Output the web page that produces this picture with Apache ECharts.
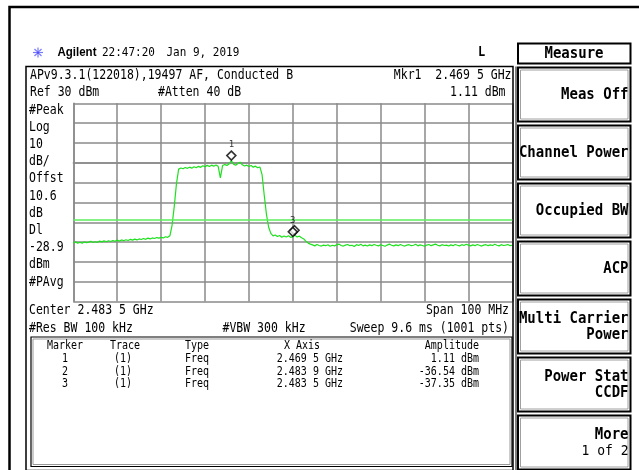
<!DOCTYPE html>
<html>
<head>
<meta charset="utf-8">
<script src="https://cdn.jsdelivr.net/npm/echarts@6/dist/echarts.min.js"></script>
<style>
html,body{margin:0;padding:0;background:#fff;}
#c{width:639px;height:470px;}
</style>
</head>
<body>
<div id="c"></div>
<script>
// ---------- data ----------
var centerMHz = 2483.5;
var spanMHz = 100;
var stepMHz = 0.5;             // trace sample spacing (MHz)
var refLevel = 30;             // dBm (top of screen)
var dbPerDiv = 10;
var displayLine = -28.9;       // DL, dBm

// trace amplitudes (dBm) every 0.5 MHz from start to stop frequency
var traceLeftFloor = [-40.4,-39.8,-40.6,-40.1,-40.5,-39.9,-40.3,-40.0,-39.6,-40.2,
  -39.8,-40.1,-39.5,-39.9,-39.4,-39.8,-39.3,-39.7,-39.2,-39.6,
  -39.0,-39.5,-38.9,-39.3,-38.8,-39.2,-38.6,-39.0,-38.5,-38.9,
  -38.4,-38.7,-38.2,-38.6,-38.0,-38.4,-37.9,-38.2,-37.7,-38.0,
  -37.6,-37.9,-37.3,-37.6];
var traceRise = [-36.8,-31.5,-22.0,-10.5,-3.2];
var tracePlateau = [-2.6,-3.0,-2.4,-2.8,-2.2,-2.7,-2.0,-2.5,-1.8,-2.3,
  -1.5,-2.0,-1.3,-1.9,-1.2,-1.7,-1.1,-1.8,-7.6,-1.4,
  -0.9,-1.3,-0.6,1.11,-0.7,-1.2,-0.4,0.3,-1.0,-1.6,
  -1.2,-1.9,-1.4,-2.2,-1.7,-2.5,-2.1];
var traceFallShoulder = [-6.0,-16.5,-26.0,-32.5,-35.6,-36.9,-36.4,-37.2,-36.7,-37.5,
  -36.9,-37.4,-36.8,-37.6,-37.35,-36.6,-37.4,-37.0,-37.8,-38.4,
  -39.6,-40.5,-41.0];
var traceRightFloor = [-41.4,-41.9,-41.2,-41.7,-42.0,-41.5,-41.8,-41.3,-42.1,-41.6,
  -41.9,-41.4,-41.0,-41.7,-42.0,-41.5,-41.2,-41.8,-41.6,-42.2,
  -41.3,-41.7,-41.1,-41.9,-41.5,-42.0,-41.4,-41.8,-41.2,-41.6,
  -41.9,-41.3,-41.7,-42.1,-41.5,-41.0,-41.6,-41.9,-41.4,-41.8,
  -41.2,-41.7,-42.0,-41.5,-41.3,-41.8,-41.6,-41.1,-41.9,-41.4,
  -41.7,-42.1,-41.5,-41.2,-41.8,-41.4,-41.0,-41.6,-41.9,-41.3,
  -41.7,-41.5,-42.0,-41.4,-41.8,-41.2,-41.6,-41.9,-41.3,-41.7,
  -41.1,-41.5,-41.9,-41.4,-41.8,-41.2,-41.6,-42.0,-41.5,-41.3,
  -41.8,-41.4,-41.7,-41.1,-41.6,-41.9,-41.3,-41.7,-41.5,-41.2,
  -41.8,-41.6];

// markers
var markerIds = ['1','2','3'];
var markerTrace = ['(1)','(1)','(1)'];
var markerType = ['Freq','Freq','Freq'];
var markerFreqGHz = [2.4695, 2.4839, 2.4835];
var markerAmp = [1.11, -36.54, -37.35];

// annotation texts
var headerTime = '22:47:20';
var headerDate = 'Jan 9, 2019';
var titleLine = 'APv9.3.1(122018),19497 AF, Conducted B';
var leftLabels = ['#Peak','Log','10','dB/','Offst','10.6','dB','Dl','-28.9','dBm','#PAvg'];
var softkeyTitle = 'Measure';
var softkeys = [['Meas Off'],['Channel Power'],['Occupied BW'],['ACP'],
  ['Multi Carrier','Power'],['Power Stat','CCDF'],['More','1 of 2']];

// ---------- build ----------
var startMHz = centerMHz - spanMHz / 2;
var traceDbm = [].concat(traceLeftFloor, traceRise, tracePlateau, traceFallShoulder, traceRightFloor);
var traceData = traceDbm.map(function (v, i) { return [i * stepMHz, v]; });

function ghzText(g) { var s = g.toFixed(4); return s.slice(0, 5) + ' ' + s.slice(5) + ' GHz'; }
function ampText(a) { return a.toFixed(2) + ' dBm'; }

var MONO = '"DejaVu Sans Mono", monospace';
var F = '11.5px ' + MONO;
var FT = '10px ' + MONO;
var FK = 'bold 14px ' + MONO;

var g = [];
function txt(t, x, y, font, align, sy) {
  g.push({ type: 'text', z: 10, x: x, y: y, scaleY: sy || 1.18,
    style: { text: t, x: 0, y: 0, font: font || F, fill: '#000',
      textAlign: align || 'left', textVerticalAlign: 'middle' } });
}
function box(x, y, w, h, stroke, lw) {
  g.push({ type: 'rect', z: 5, shape: { x: x, y: y, width: w, height: h },
    style: { fill: 'none', stroke: stroke || '#000', lineWidth: lw || 1 } });
}

// outer frame
box(9.5, 7, 660, 500, '#000', 2.5);
// main display box
box(26, 66.5, 487, 404, '#000', 1.5);
g.push({ type: 'line', z: 5, shape: { x1: 516, y1: 66.5, x2: 516, y2: 470 }, style: { stroke: '#000', lineWidth: 1 } });
// marker table box
box(31, 337, 481, 129.5, '#000', 1.2);
box(33, 339, 477, 125.5, '#999', 1);

// Agilent logo star
var cx = 38, cy = 52.5;
for (var a = 0; a < 8; a++) {
  var ang = a * Math.PI / 4;
  g.push({ type: 'line', z: 10, shape: { x1: cx + 1.5 * Math.cos(ang), y1: cy + 1.5 * Math.sin(ang),
    x2: cx + 5 * Math.cos(ang), y2: cy + 5 * Math.sin(ang) }, style: { stroke: '#7878ff', lineWidth: 1.2 } });
}
g.push({ type: 'circle', z: 10, shape: { cx: cx, cy: cy, r: 1.6 }, style: { fill: '#5050ff' } });
txt('Agilent', 57.5, 52.5, 'bold 11.5px "Liberation Sans", Arial, sans-serif', 'left', 1.1);
txt(headerTime, 102, 52.5, '11px ' + MONO);
txt(headerDate, 166.5, 52.5, '11px ' + MONO);
txt('L', 478, 52.5, 'bold 12px ' + MONO);

txt(titleLine, 30, 75.5);
txt('Mkr' + markerIds[0] + '  ' + ghzText(markerFreqGHz[0]), 511.5, 75.5, F, 'right');
txt('Ref ' + refLevel + ' dBm', 30, 92.5);
txt('#Atten 40 dB', 158, 92.5);
txt(ampText(markerAmp[0]), 505.5, 92.5, F, 'right');

leftLabels.forEach(function (t, i) { txt(t, 29, 110 + i * 17.2); });

txt('Center ' + ghzText(centerMHz / 1000), 29, 310.5);
txt('Span ' + spanMHz + ' MHz', 509, 310.5, F, 'right');
txt('#Res BW 100 kHz', 29, 328.3);
txt('#VBW 300 kHz', 222.5, 328.3);
txt('Sweep 9.6 ms (1001 pts)', 509, 328.3, F, 'right');

// marker table
var ty0 = 346;
txt('Marker', 65, ty0, FT, 'center');
txt('Trace', 125, ty0, FT, 'center');
txt('Type', 185, ty0, FT, 'left');
txt('X Axis', 320, ty0, FT, 'right');
txt('Amplitude', 479, ty0, FT, 'right');
markerIds.forEach(function (id, i) {
  var y = 359 + i * 12.7;
  txt(id, 65, y, FT, 'center');
  txt(markerTrace[i], 123, y, FT, 'center');
  txt(markerType[i], 185, y, FT, 'left');
  txt(ghzText(markerFreqGHz[i]), 343, y, FT, 'right');
  txt(ampText(markerAmp[i]), 479, y, FT, 'right');
});

// softkeys
box(518, 43.5, 112.5, 20, '#000', 2);
txt(softkeyTitle, 574, 53.5, FK, 'center', 1.1);
softkeys.forEach(function (lines, i) {
  var top = 67.5 + i * 58;
  box(518, top, 112.5, 54, '#000', 2);
  box(520.5, top + 2.5, 107.5, 49, '#888', 0.8);
  var mid = top + 27;
  if (lines.length === 1) {
    txt(lines[0], 628.5, mid, FK, 'right', 1.1);
  } else {
    txt(lines[0], 628.5, mid - 8, FK, 'right', 1.1);
    txt(lines[1], 628.5, mid + 8.5, i === 6 ? '13px ' + MONO : FK, 'right', 1.1);
  }
});

var markerPts = markerIds.map(function (id, i) {
  return { value: [markerFreqGHz[i] * 1000 - startMHz, markerAmp[i]], name: id,
    label: { show: id !== '2' } };
});
// draw marker 2 first so marker 3 sits on top
var markerOrder = [1, 2, 0];

var chart = echarts.init(document.getElementById('c'), null, { renderer: 'canvas' });
chart.setOption({
  backgroundColor: '#fff',
  animation: false,
  grid: { left: 73.3, top: 103.3, width: 439, height: 198.3, show: false },
  xAxis: {
    type: 'value', min: 0, max: spanMHz, interval: spanMHz / 10,
    axisLine: { show: true, lineStyle: { color: '#8a8a8a', width: 1.5 } },
    axisTick: { show: false }, axisLabel: { show: false },
    splitLine: { show: true, lineStyle: { color: '#8a8a8a', width: 1.5 } }
  },
  yAxis: {
    type: 'value', min: refLevel - 10 * dbPerDiv, max: refLevel, interval: dbPerDiv,
    axisLine: { show: true, lineStyle: { color: '#8a8a8a', width: 1.5 } },
    axisTick: { show: false }, axisLabel: { show: false },
    splitLine: { show: true, lineStyle: { color: '#8a8a8a', width: 1.5 } }
  },
  series: [
    {
      type: 'line', data: traceData, showSymbol: false, symbol: 'none',
      lineStyle: { color: '#1fe01f', width: 1.2 }, z: 3,
      markLine: {
        silent: true, symbol: 'none', label: { show: false },
        lineStyle: { color: '#5af05a', width: 1.5, type: 'solid' },
        data: [{ yAxis: displayLine }]
      }
    },
    {
      type: 'scatter', z: 6,
      data: markerOrder.map(function (i) { return markerPts[i]; }),
      symbol: 'diamond', symbolSize: 9, symbolOffset: [0, -5],
      itemStyle: { color: '#fff', borderColor: '#000', borderWidth: 1.6 },
      label: { show: true, position: 'top', distance: 1, formatter: '{b}',
        color: '#000', fontSize: 9, fontFamily: 'DejaVu Sans Mono' }
    }
  ],
  graphic: g
});
</script>
</body>
</html>
